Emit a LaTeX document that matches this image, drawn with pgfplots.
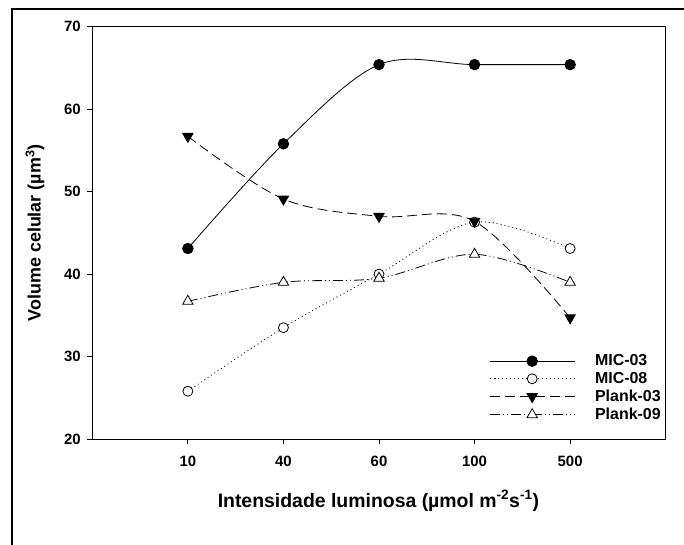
\documentclass[border=0pt]{standalone}
\usepackage{fontspec}
\setmainfont{Liberation Sans}
\usepackage{pgfplots}
\pgfplotsset{compat=1.18}
\begin{document}
\begin{tikzpicture}[x=1bp,y=1bp]
\useasboundingbox (0,0) rectangle (684,-545);
\draw[line width=2bp] (12,-560) -- (12,-9) -- (700,-9);
\begin{axis}[
  at={(92.3bp,-439bp)}, anchor=south west,
  scale only axis, width=573.4bp, height=412.3bp,
  xmin=-1, xmax=5, ymin=20, ymax=70,
  xtick={0,1,2,3,4}, xticklabels={10,40,60,100,500},
  ytick={20,30,40,50,60,70},
  tick pos=left, tick align=outside,
  major tick length=5bp,
  every tick/.style={black, line width=0.8bp},
  axis line style={line width=0.8bp},
  /pgf/number format/assume math mode=true,
  tick label style={font=\bfseries\fontsize{15}{15}\selectfont},
  xticklabel style={yshift=-9bp},
  yticklabel style={xshift=-3bp},
  xlabel={Intensidade luminosa (µmol m\textsuperscript{-2}s\textsuperscript{-1})},
  ylabel={Volume celular (µm\textsuperscript{3})},
  xlabel style={font=\bfseries\fontsize{19.5}{19.5}\selectfont, at={(axis description cs:0.499,-0.150)}, anchor=center},
  ylabel style={font=\bfseries\fontsize{18}{18}\selectfont, at={(axis description cs:-0.1,0.5)}, anchor=center},
  legend style={draw=none, fill=none, at={(axis description cs:0.692,0.207)}, anchor=north west,
    font=\bfseries\fontsize{16}{16}\selectfont, row sep=3bp, inner sep=0pt,
    nodes={inner sep=1bp}},
  legend cell align=left,
  legend image code/.code={\draw[mark repeat=2,mark phase=2,#1] plot coordinates {(0bp,0bp) (42.5bp,0bp) (85bp,0bp)};\path (104bp,0bp);},
  every axis plot/.append style={black, line width=0.8bp, smooth, tension=0.55},
]
\addplot[solid, mark=*, mark size=5.3bp, mark options={solid, fill=black}] coordinates {(0,43.1) (1,55.8) (2,65.4) (3,65.4) (4,65.4)};
\addlegendentry{MIC-03}
\addplot[dash pattern=on 1bp off 3bp, mark=*, mark size=5bp, mark options={solid, fill=white}] coordinates {(0,25.8) (1,33.5) (2,40.0) (3,46.3) (4,43.1)};
\addlegendentry{MIC-08}
\addplot[dash pattern=on 10bp off 5bp, mark=triangle*, mark size=6bp, mark options={solid, fill=black, rotate=180}] coordinates {(0,56.7) (1,49.1) (2,47.0) (3,46.4) (4,34.7)};
\addlegendentry{Plank-03}
\addplot[dash pattern=on 10bp off 3bp on 1bp off 3bp on 1bp off 3bp, mark=triangle*, mark size=6bp, mark options={solid, fill=white}] coordinates {(0,36.7) (1,39.0) (2,39.5) (3,42.4) (4,39.0)};
\addlegendentry{Plank-09}
\end{axis}
\end{tikzpicture}
\end{document}
